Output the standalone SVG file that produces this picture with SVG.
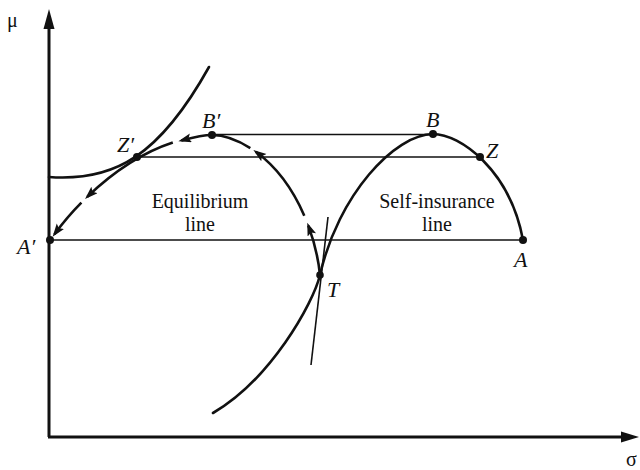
<svg xmlns="http://www.w3.org/2000/svg" width="640" height="470" viewBox="0 0 640 470">
  <style>
    .axis { stroke: #111; stroke-width: 3; fill: none; }
    .curve { stroke: #111; stroke-width: 2.6; fill: none; stroke-linecap: round; }
    .eq { stroke: #111; stroke-width: 2.6; fill: none; stroke-linecap: butt; marker-end: url(#arr); }
    .thin { stroke: #111; stroke-width: 1.3; fill: none; }
    .dot { fill: #111; }
    .lbl { font-family: "Liberation Serif", "Times New Roman", serif; font-style: italic; font-size: 22px; fill: #111; }
    .txt { font-family: "Liberation Serif", "Times New Roman", serif; font-size: 20px; fill: #111; text-anchor: middle; }
    .ax { font-family: "Liberation Serif", "Times New Roman", serif; font-size: 20px; fill: #111; }
  </style>
  <defs>
    <marker id="arr" markerUnits="userSpaceOnUse" markerWidth="16" markerHeight="12" refX="10" refY="4.5" orient="auto">
      <path d="M0,0 L13,4.5 L0,9 L2.5,4.5 z" fill="#111"/>
    </marker>
  </defs>
  <rect width="640" height="470" fill="#fff"/>

  <g id="axes">
    <path class="axis" d="M49,437 L49,24"/>
    <path d="M49,9 L54.5,29 L43.5,29 z" fill="#111"/>
    <path class="axis" d="M48,437 L624,437"/>
    <path d="M639,437 L621,431.5 L621,442.5 z" fill="#111"/>
    <text class="ax" x="7" y="27">μ</text>
    <text class="ax" x="626" y="466">σ</text>
  </g>

  <g id="connectors">
    <!-- horizontal guide lines -->
    <path class="thin" d="M212,134.5 L433,134.5"/>
    <path class="thin" d="M137,157 L480,157"/>
    <path class="thin" d="M50,240 L523,240"/>
    <!-- self-insurance line -->
    <path class="curve" d="M523,240 C510,170 460,134 433,134 C395,134 338,195 320,275 C313,304 270,380 213,413"/>
    <!-- indifference curve through Z' -->
    <path class="curve" d="M49,177 C115,182 160,155 209,67"/>
    <!-- tangent line at T -->
    <path class="thin" style="stroke-width:1.6" d="M328,217 Q321,280 311,365"/>
    <!-- equilibrium line, drawn as arrowed pieces -->
    <path class="eq" d="M320,275 C318.2,257.8 314.1,241 308.3,225.6"/>
    <path class="eq" d="M304.3,215.7 C292.5,188.5 275.2,165.9 255.8,151.8"/>
    <path class="eq" d="M250.3,148.1 C238,140.3 225,135 212,135 C201.5,135 191.8,137.7 181.3,140.5"/>
    <path class="eq" d="M172.8,142.6 C141.9,152.7 112,173.2 87.2,196.9"/>
    <path class="eq" d="M81.4,202.7 C71.3,212.8 62.2,223.8 54.4,234.3"/>
  </g>

  <g id="node-A">
    <circle class="dot" cx="523" cy="240" r="4"/>
    <text class="lbl" x="514" y="267">A</text>
  </g>
  <g id="node-B">
    <circle class="dot" cx="433" cy="134" r="4"/>
    <text class="lbl" x="426" y="127">B</text>
  </g>
  <g id="node-Z">
    <circle class="dot" cx="480" cy="157" r="4"/>
    <text class="lbl" x="486" y="158">Z</text>
  </g>
  <g id="node-A-prime">
    <circle class="dot" cx="50" cy="240" r="4"/>
    <text class="lbl" x="17" y="254">A′</text>
  </g>
  <g id="node-B-prime">
    <circle class="dot" cx="212" cy="135" r="4"/>
    <text class="lbl" x="202" y="128">B′</text>
  </g>
  <g id="node-Z-prime">
    <circle class="dot" cx="137" cy="157" r="4"/>
    <text class="lbl" x="117" y="152">Z′</text>
  </g>
  <g id="node-T">
    <circle class="dot" cx="320" cy="275" r="3.8"/>
    <text class="lbl" x="327" y="297">T</text>
  </g>
  <g id="label-equilibrium">
    <text class="txt" x="200" y="208">Equilibrium</text>
    <text class="txt" x="200" y="230.5">line</text>
  </g>
  <g id="label-self-insurance">
    <text class="txt" x="437" y="208">Self-insurance</text>
    <text class="txt" x="437" y="230.5">line</text>
  </g>
</svg>
